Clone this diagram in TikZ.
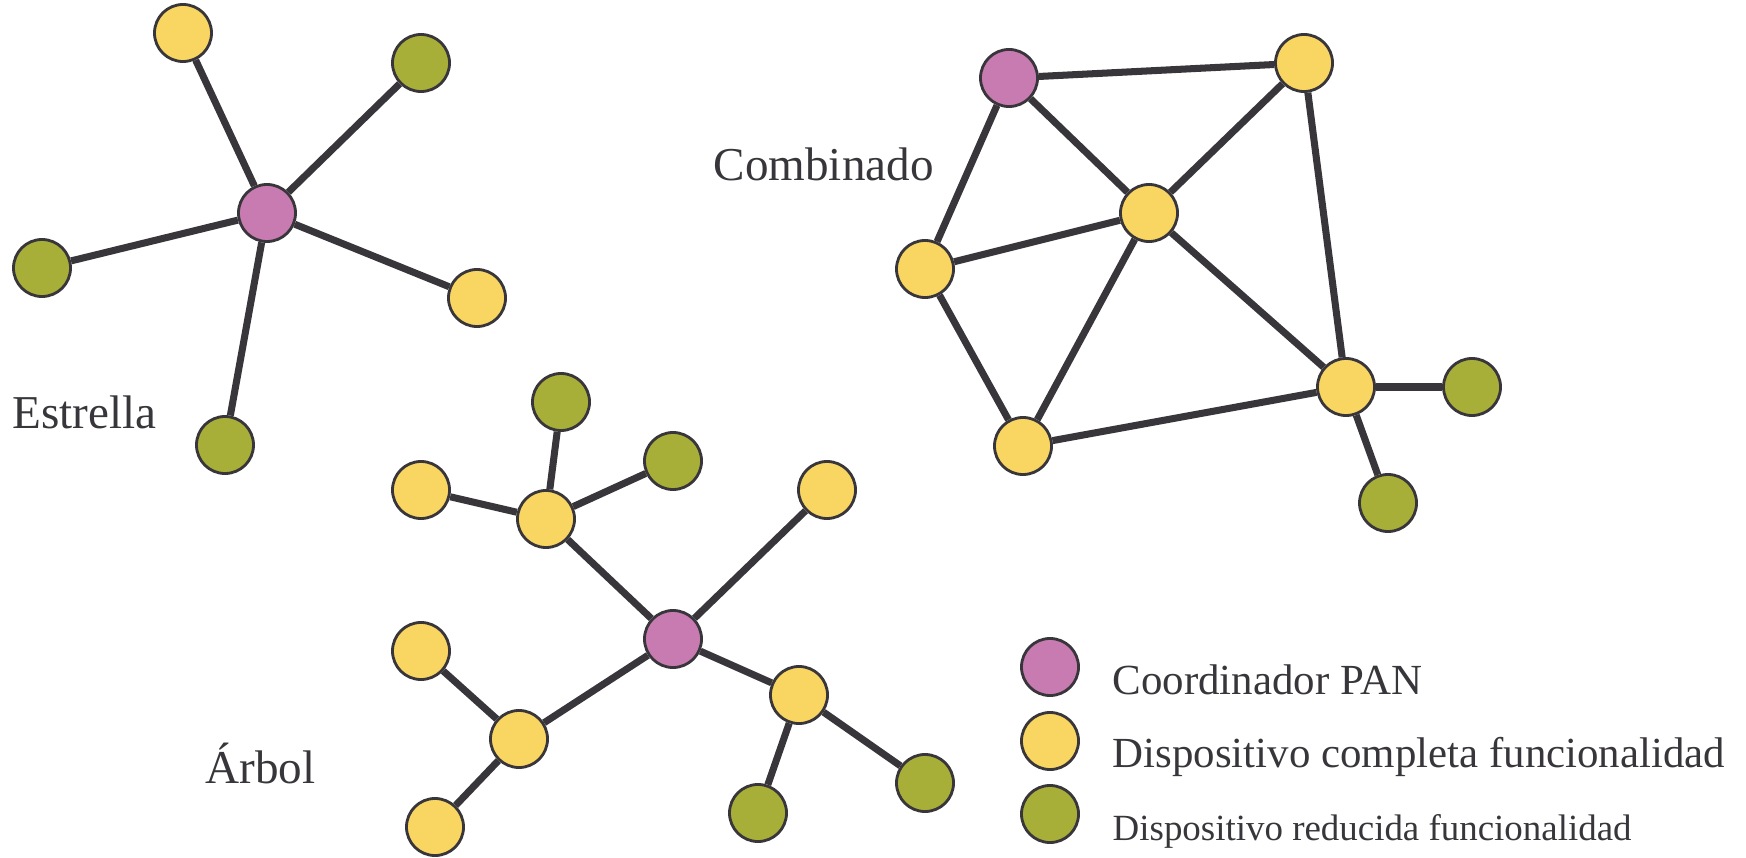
\documentclass[tikz,border=0pt]{standalone}
\usepackage{fontspec}
\setmainfont{Liberation Serif}
\usetikzlibrary{positioning}
\definecolor{panpurple}{HTML}{C77BB1}
\definecolor{ffdyellow}{HTML}{F9D562}
\definecolor{rfdgreen}{HTML}{A8AF38}
\definecolor{linkgray}{HTML}{38363A}
\begin{document}
\begin{tikzpicture}
  [
    x=0.01cm,
    y=-0.01cm,
    dev/.style={
      circle,
      draw=linkgray,
      line width=0.8pt,
      minimum size=0.57cm,
      inner sep=0pt
    },
    pan/.style={
      dev,
      fill=panpurple
    },
    ffd/.style={
      dev,
      fill=ffdyellow
    },
    rfd/.style={
      dev,
      fill=rfdgreen
    },
    link/.style={
      draw=linkgray,
      line width=2pt
    },
    title/.style={
      anchor=base west,
      inner sep=0pt,
      text=linkgray,
      font=\fontsize{13.4}{16}\selectfont
    }
  ]
  \useasboundingbox (0,0) rectangle (1746,858);
  % estrella
  \node [pan] (s0) at (267,213) {};
  \node [ffd] (s1) at (183,33) {};
  \node [rfd] (s2) at (421,63) {};
  \node [rfd] (s3) at (42,268) {};
  \node [ffd] (s4) at (477,298) {};
  \node [rfd] (s5) at (225,445) {};
  \draw [link] (s0) -- (s1);
  \draw [link] (s0) -- (s2);
  \draw [link] (s0) -- (s3);
  \draw [link] (s0) -- (s4);
  \draw [link] (s0) -- (s5);
  \node [title] (lestrella) at (12,428) {Estrella};
  % combinado
  \node [pan] (c1) at (1009,78) {};
  \node [ffd] (c2) at (1304,63) {};
  \node [ffd] (c3) at (1149,213) {};
  \node [ffd] (c4) at (925,269) {};
  \node [ffd] (c5) at (1023,446) {};
  \node [ffd] (c6) at (1346,387) {};
  \node [rfd] (c7) at (1472,387) {};
  \node [rfd] (c8) at (1388,503) {};
  \draw [link] (c1) -- (c2);
  \draw [link] (c1) -- (c3);
  \draw [link] (c1) -- (c4);
  \draw [link] (c2) -- (c3);
  \draw [link] (c2) -- (c6);
  \draw [link] (c3) -- (c4);
  \draw [link] (c3) -- (c5);
  \draw [link] (c3) -- (c6);
  \draw [link] (c4) -- (c5);
  \draw [link] (c5) -- (c6);
  \draw [link] (c6) -- (c7);
  \draw [link] (c6) -- (c8);
  \node [title] (lcombinado) at (713,181) {Combinado};
  % arbol
  \node [pan] (t0) at (673,639) {};
  \node [ffd] (t1) at (546,519) {};
  \node [ffd] (t11) at (421,490) {};
  \node [rfd] (t12) at (561,402) {};
  \node [rfd] (t13) at (673,461) {};
  \node [ffd] (t2) at (827,490) {};
  \node [ffd] (t3) at (519,739) {};
  \node [ffd] (t31) at (421,651) {};
  \node [ffd] (t32) at (435,827) {};
  \node [ffd] (t4) at (799,695) {};
  \node [rfd] (t41) at (758,813) {};
  \node [rfd] (t42) at (925,783) {};
  \draw [link] (t0) -- (t1);
  \draw [link] (t1) -- (t11);
  \draw [link] (t1) -- (t12);
  \draw [link] (t1) -- (t13);
  \draw [link] (t0) -- (t2);
  \draw [link] (t0) -- (t3);
  \draw [link] (t3) -- (t31);
  \draw [link] (t3) -- (t32);
  \draw [link] (t0) -- (t4);
  \draw [link] (t4) -- (t41);
  \draw [link] (t4) -- (t42);
  \node [title] (larbol) at (205,783) {Árbol};
  % leyenda
  \node [pan] (kpan) at (1050,667) {};
  \node [ffd] (kffd) at (1050,741) {};
  \node [rfd] (krfd) at (1050,814) {};
  \node [title,font=\fontsize{12.2}{14}\selectfont] (lpan) at (1112,694) {Coordinador PAN};
  \node [title,font=\fontsize{12.2}{14}\selectfont] (lffd) at (1112,767) {Dispositivo completa funcionalidad};
  \node [title,font=\fontsize{10.5}{12}\selectfont] (lrfd) at (1112,840) {Dispositivo reducida funcionalidad};
\end{tikzpicture}
\end{document}
